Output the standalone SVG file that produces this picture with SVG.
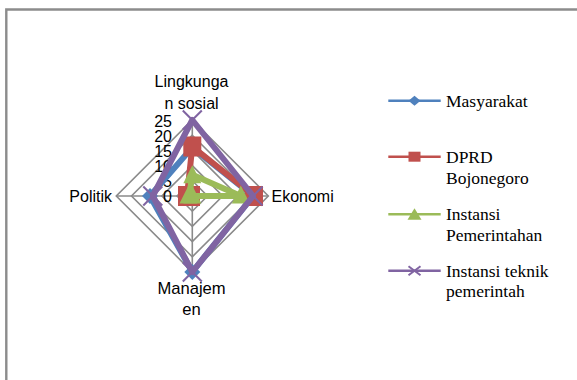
<svg xmlns="http://www.w3.org/2000/svg" width="577" height="380" viewBox="0 0 577 380">
<style>
.grid{fill:none;stroke:#8a8a8a;stroke-width:1.6}
.lbl{font-family:"Liberation Sans",Arial,sans-serif;font-size:16px;fill:#000}
.leg{font-family:"Liberation Serif","Times New Roman",serif;font-size:17.5px;fill:#000}
.s1{fill:none;stroke:#4F81BD;stroke-width:6;stroke-linejoin:round}
.s2{fill:none;stroke:#C0504D;stroke-width:6;stroke-linejoin:round}
.s3{fill:none;stroke:#9BBB59;stroke-width:6;stroke-linejoin:round}
.s4{fill:none;stroke:#8064A2;stroke-width:6;stroke-linejoin:round}
.m1{fill:#4F81BD}
.m2{fill:#C0504D}
.m3{fill:#9BBB59}
.m4{fill:none;stroke:#8064A2;stroke-width:2}
</style>
<defs>
<path id="dia" d="M0,-8 L8,0 L0,8 L-8,0 Z"/>
<rect id="sq" x="-9" y="-10" width="18" height="20"/>
<path id="tri" d="M0,-9.5 L9,8.5 L-9,8.5 Z"/>
<path id="xm" d="M-9.5,-9.5 L9.5,9.5 M-9.5,9.5 L9.5,-9.5"/>
<path id="ldia" d="M0,-5 L6,0 L0,5 L-6,0 Z"/>
<rect id="lsq" x="-6" y="-5" width="12" height="10"/>
<path id="ltri" d="M0,-6 L7,5.5 L-7,5.5 Z"/>
<path id="lxm" d="M-6,-4.5 L6,4.5 M-6,4.5 L6,-4.5"/>
</defs>
<rect width="577" height="380" fill="#fff"/>
<path d="M6.3,380 L6.3,9.5 L577,9.5" fill="none" stroke="#8c8c8c" stroke-width="2.4"/>

<g id="grid">
<path class="grid" d="M192.3,180.8 L207.5,196 L192.3,211.2 L177.1,196 Z"/>
<path class="grid" d="M192.3,165.6 L222.7,196 L192.3,226.4 L161.9,196 Z"/>
<path class="grid" d="M192.3,150.4 L237.9,196 L192.3,241.6 L146.7,196 Z"/>
<path class="grid" d="M192.3,135.2 L253.1,196 L192.3,256.8 L131.5,196 Z"/>
<path class="grid" d="M192.3,120 L268.3,196 L192.3,272 L116.3,196 Z"/>
<path class="grid" d="M192.3,120 L192.3,272 M116.3,196 L268.3,196"/>
</g>

<g id="tick-labels" class="lbl" text-anchor="end">
<text x="172" y="126.5">25</text>
<text x="172" y="141.5">20</text>
<text x="172" y="156.5">15</text>
<text x="172" y="171.5">10</text>
<text x="172" y="186.5">5</text>
<text x="172" y="201.5">0</text>
</g>

<g id="axis-labels" class="lbl">
<text x="191.5" y="87" text-anchor="middle">Lingkunga</text>
<text x="191.5" y="109" text-anchor="middle">n sosial</text>
<text x="112" y="202" text-anchor="end">Politik</text>
<text x="271.5" y="202">Ekonomi</text>
<text x="191.5" y="293.5" text-anchor="middle" font-size="16.6">Manajem</text>
<text x="191.5" y="315" text-anchor="middle" font-size="16.6">en</text>
</g>

<g id="connectors">
<g id="series-masyarakat">
<path class="s1" d="M192.3,147.4 L253.1,196 L192.3,272 L150,196 Z"/>
<use href="#dia" class="m1" x="192.3" y="147.4"/>
<use href="#dia" class="m1" x="253.1" y="196"/>
<use href="#dia" class="m1" x="192.3" y="272"/>
<use href="#dia" class="m1" x="150" y="196"/>
</g>
<g id="series-dprd">
<path class="s2" d="M192.3,146.5 L254,196 L192.3,196 L187,196 Z"/>
<use href="#sq" class="m2" x="192.3" y="146.5"/>
<use href="#sq" class="m2" x="254" y="196"/>
<use href="#sq" class="m2" x="191" y="196"/>
<use href="#sq" class="m2" x="187" y="196"/>
</g>
<g id="series-instansi">
<path class="s3" d="M192.3,174.7 L240.9,196 L192.3,196 L189.3,196 Z"/>
<use href="#tri" class="m3" x="192.3" y="174.7"/>
<use href="#tri" class="m3" x="240.8" y="195"/>
<use href="#tri" class="m3" x="192.3" y="195"/>
<use href="#tri" class="m3" x="188.5" y="195"/>
</g>
<g id="series-teknik">
<path class="s4" d="M192.3,120 L253.1,196 L192.3,272 L152.8,196 Z"/>
<use href="#xm" class="m4" x="192.3" y="120"/>
<use href="#xm" class="m4" x="253.1" y="196"/>
<use href="#xm" class="m4" x="192.3" y="272"/>
<use href="#xm" class="m4" x="152.8" y="196"/>
</g>
</g>

<g id="legend">
<g id="leg-masyarakat">
<line x1="388.3" y1="100.7" x2="440.7" y2="100.7" stroke="#4F81BD" stroke-width="2.6"/>
<use href="#ldia" class="m1" x="414.5" y="100.7"/>
<text class="leg" x="446" y="106.5">Masyarakat</text>
</g>
<g id="leg-dprd">
<line x1="388.3" y1="156.7" x2="440.7" y2="156.7" stroke="#C0504D" stroke-width="2.6"/>
<use href="#lsq" class="m2" x="414.5" y="156.7"/>
<text class="leg" x="446" y="163">DPRD</text>
<text class="leg" x="446" y="184">Bojonegoro</text>
</g>
<g id="leg-instansi">
<line x1="388.3" y1="214.3" x2="440.7" y2="214.3" stroke="#9BBB59" stroke-width="2.6"/>
<use href="#ltri" class="m3" x="414.5" y="214.3"/>
<text class="leg" x="446" y="220">Instansi</text>
<text class="leg" x="446" y="240.5">Pemerintahan</text>
</g>
<g id="leg-teknik">
<line x1="388.3" y1="270.7" x2="440.7" y2="270.7" stroke="#8064A2" stroke-width="2.6"/>
<use href="#lxm" class="m4" x="414.5" y="270.7"/>
<text class="leg" x="446" y="276.5">Instansi teknik</text>
<text class="leg" x="446" y="297">pemerintah</text>
</g>
</g>
</svg>
